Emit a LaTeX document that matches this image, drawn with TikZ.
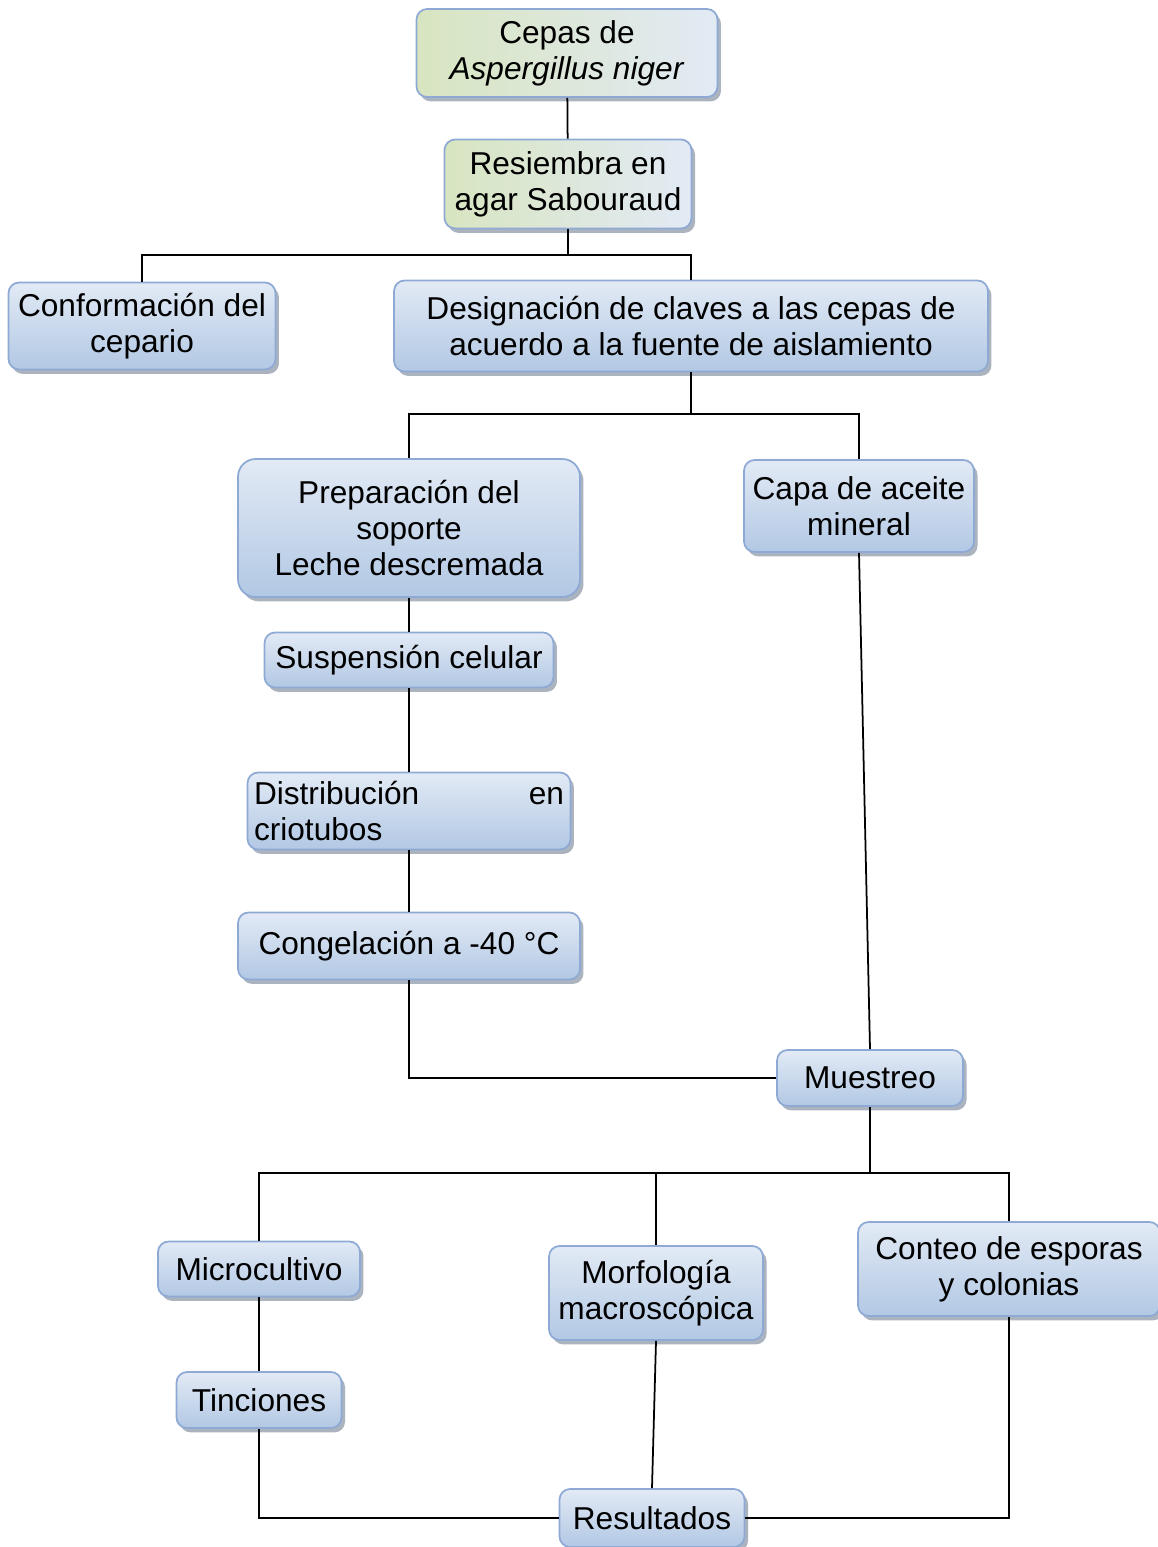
\documentclass[tikz,border=0pt]{standalone}
\usepackage{fontspec}
\setmainfont{Liberation Sans}
\usepackage{tikz}
\usetikzlibrary{positioning,shadows,calc}

\definecolor{boxline}{RGB}{142,170,212}
\definecolor{boxdark}{RGB}{178,200,228}
\definecolor{boxlight}{RGB}{226,234,245}
\definecolor{boxgreen}{RGB}{216,229,192}
\definecolor{shadowcol}{RGB}{150,160,175}

\begin{document}
\begin{tikzpicture}[
    x=0.02cm, y=-0.02cm,
    bx/.style={draw=boxline, line width=1pt, rounded corners=6pt,
               align=center, inner sep=2pt,
               font=\fontsize{18}{20.5}\selectfont,
               top color=boxlight, bottom color=boxdark,
               drop shadow={shadow xshift=2pt, shadow yshift=-2.5pt,
                            fill=shadowcol, opacity=0.8}},
    gbx/.style={bx, left color=boxgreen, right color=boxlight},
    link/.style={line width=1pt, black},
  ]
  \useasboundingbox (0,0) rectangle (1157,1547);

  \node[gbx, minimum width=6.02cm, minimum height=1.76cm] (cepas) at (567,53)
    {Cepas de\\\textit{Aspergillus niger}};
  \node[gbx, minimum width=4.94cm, minimum height=1.78cm] (resiembra) at (568,184)
    {Resiembra en\\agar Sabouraud};
  \node[bx, minimum width=5.34cm, minimum height=1.74cm] (conformacion) at (142,326)
    {Conformación del\\cepario};
  \node[bx, minimum width=11.88cm, minimum height=1.82cm] (designacion) at (691,326)
    {Designación de claves a las cepas de\\acuerdo a la fuente de aislamiento};
  \node[bx, rounded corners=10pt, minimum width=6.84cm, minimum height=2.76cm] (preparacion) at (409,528)
    {Preparación del\\soporte\\Leche descremada};
  \node[bx, minimum width=4.6cm, minimum height=1.84cm] (capa) at (859,506)
    {Capa de aceite\\mineral};
  \node[bx, minimum width=5.78cm, minimum height=1.1cm] (suspension) at (409,660)
    {Suspensión celular};
  \node[bx, align=left, text width=6.2cm, minimum width=6.46cm, minimum height=1.54cm] (distribucion) at (409,811)
    {Distribución\hfill en\\criotubos};
  \node[bx, minimum width=6.84cm, minimum height=1.34cm] (congelacion) at (409,946)
    {Congelación a -40 °C};
  \node[bx, minimum width=3.72cm, minimum height=1.12cm] (muestreo) at (870,1078)
    {Muestreo};
  \node[bx, minimum width=4.04cm, minimum height=1.1cm] (microcultivo) at (259,1269)
    {Microcultivo};
  \node[bx, minimum width=4.28cm, minimum height=1.88cm] (morfologia) at (656,1293)
    {Morfología\\macroscópica};
  \node[bx, minimum width=6.04cm, minimum height=1.88cm] (conteo) at (1009,1269)
    {Conteo de esporas\\y colonias};
  \node[bx, minimum width=3.3cm, minimum height=1.12cm] (tinciones) at (259,1400)
    {Tinciones};
  \node[bx, minimum width=3.7cm, minimum height=1.16cm] (resultados) at (652,1518)
    {Resultados};

  \coordinate (j1) at (568,255);
  \coordinate (j2) at (691,414);
  \coordinate (j3) at (870,1173);

  \draw[link] (cepas) -- (resiembra);
  \draw[link] (resiembra) -- (j1);
  \draw[link] (j1) -| (conformacion);
  \draw[link] (j1) -| (designacion);
  \draw[link] (designacion) -- (j2);
  \draw[link] (j2) -| (preparacion);
  \draw[link] (j2) -| (capa);
  \draw[link] (preparacion) -- (suspension);
  \draw[link] (suspension) -- (distribucion);
  \draw[link] (distribucion) -- (congelacion);
  \draw[link] (congelacion) |- (muestreo);
  \draw[link] (capa.south) -- (muestreo.north);
  \draw[link] (muestreo) -- (j3);
  \draw[link] (j3) -| (microcultivo);
  \draw[link] (j3) -| (morfologia);
  \draw[link] (j3) -| (conteo);
  \draw[link] (microcultivo) -- (tinciones);
  \draw[link] (tinciones) |- (resultados);
  \draw[link] (morfologia.south) -- (resultados.north);
  \draw[link] (conteo) |- (resultados);
\end{tikzpicture}
\end{document}
